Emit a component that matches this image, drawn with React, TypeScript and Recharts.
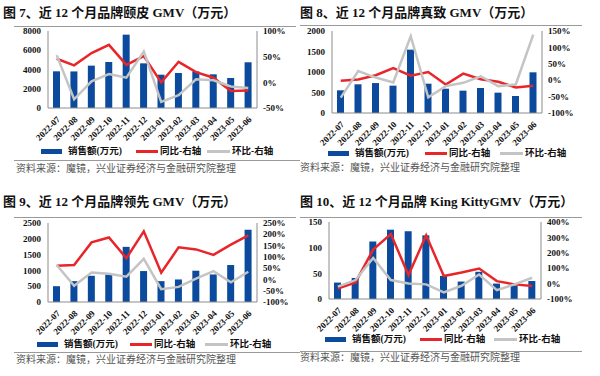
import React from "react";
import { ComposedChart, Bar, Line, XAxis, YAxis } from "recharts";

const months = [
  "2022-07", "2022-08", "2022-09", "2022-10", "2022-11", "2022-12",
  "2023-01", "2023-02", "2023-03", "2023-04", "2023-05", "2023-06",
];

// 图7 颐皮
const p7Sales = [3810, 3800, 4400, 4780, 7620, 4640, 3460, 3640, 3800, 3500, 3120, 4750];
const p7Yoy = [46, 33, 57, 73, 34, 51, 0, 40, 20, 9, -17, -16];
const p7Mom = [53, -33, 2, 16, 9, 60, -38, -25, 6, 4, -8, -11];

// 图8 真致
const p8Sales = [553, 700, 730, 667, 1545, 715, 593, 545, 610, 496, 415, 992];
const p8Yoy = [-2, 2, 15, 37, 14, 25, -13, 20, 3, -5, -22, -17];
const p8Mom = [-53, 28, 8, -7, 134, -52, -18, -8, 12, -18, -13, 139];

// 图9 领先
const p9Sales = [500, 660, 830, 872, 1745, 979, 660, 713, 990, 872, 1170, 2287];
const p9Yoy = [61, 64, 164, 186, 94, 213, 30, 142, 133, 109, 154, 195];
const p9Mom = [64, -28, 31, 25, 12, 91, -43, -33, 4, 37, -13, 34];

// 图10 King Kitty
const p10Sales = [32, 41, 112, 135, 132, 124, 45, 34, 53, 30, 26, 35];
const p10Yoy = [-33, 8, 221, 322, 55, 314, 49, 72, 98, 16, -5, -16];
const p10Mom = [-20, 23, 167, 23, 1, -5, -57, -14, 59, -42, -5, 38];

const BLUE = "#0B4A9C";
const RED = "#E8262A";
const GRAY = "#C4C4C4";
const AXIS = "#8C8C8C";
const SERIF = "'Liberation Serif', 'Noto Sans CJK SC', serif";
const CJK = "'Liberation Serif', 'Noto Sans CJK SC', sans-serif";

const buildRows = (sales: number[], yoy: number[], mom: number[]) =>
  months.map((m, i) => ({ month: m, sales: sales[i], yoy: yoy[i], mom: mom[i] }));

const MonthTick = (props: any) => {
  const { x, y, payload } = props;
  const tx = x + 4;
  const ty = y + 4;
  return (
    <text
      x={tx}
      y={ty}
      transform={`rotate(-45 ${tx} ${ty})`}
      textAnchor="end"
      fontSize={9}
      fontWeight="bold"
      fontFamily={SERIF}
      fill="#111"
    >
      {payload.value}
    </text>
  );
};

type PanelProps = {
  left: number;
  top: number;
  title: string;
  rows: any[];
  leftTicks: number[];
  rightTicks: number[];
  plotLeft: number;
  plotRight: number;
  plotTop: number;
  plotBottom: number;
  titleY: number;
  sepTop: number;
  sepTopX: [number, number];
  legendY: number;
  legendX: number[];
  sepBottom?: number;
  sepBottomX?: [number, number];
  sourceY: number;
  sourceX: number;
};

const tickStyle = { fontSize: 9, fontWeight: "bold", fontFamily: SERIF, fill: "#111" };

const Panel = (p: PanelProps) => {
  const chartTop = p.plotTop - 5;
  const xAxisH = 40;
  const h = p.plotBottom - chartTop + xAxisH;
  const legendText = {
    position: "absolute" as const,
    top: p.legendY - 7,
    fontSize: 9.5,
    fontWeight: "bold" as const,
    fontFamily: CJK,
    color: "#111",
    whiteSpace: "nowrap" as const,
    lineHeight: "14px",
  };
  return (
    <div style={{ position: "absolute", left: p.left, top: p.top, width: 300, height: 190 }}>
      <div
        style={{
          position: "absolute",
          left: p.sourceX === 0 ? 0 : 3,
          top: p.titleY - 9,
          fontSize: 13,
          fontWeight: "bold",
          fontFamily: CJK,
          color: "#111",
          whiteSpace: "nowrap",
          lineHeight: "18px",
        }}
      >
        {p.title}
      </div>
      <div
        style={{
          position: "absolute",
          left: p.sepTopX[0],
          width: p.sepTopX[1] - p.sepTopX[0],
          top: p.sepTop,
          height: 1,
          background: "#9A9A9A",
        }}
      />
      <div style={{ position: "absolute", left: 0, top: chartTop }}>
        <ComposedChart
          width={300}
          height={h}
          data={p.rows}
          margin={{ top: 5, right: 0, left: 0, bottom: 0 }}
          barCategoryGap="60%"
        >
          <XAxis
            dataKey="month"
            height={xAxisH}
            interval={0}
            tickLine={false}
            stroke={AXIS}
            tick={<MonthTick />}
          />
          <YAxis
            yAxisId="left"
            width={p.plotLeft}
            domain={[p.leftTicks[0], p.leftTicks[p.leftTicks.length - 1]]}
            ticks={p.leftTicks}
            interval={0}
            tickSize={0}
            tickMargin={7}
            stroke={AXIS}
            tick={tickStyle}
          />
          <YAxis
            yAxisId="right"
            orientation="right"
            width={300 - p.plotRight}
            domain={[p.rightTicks[0], p.rightTicks[p.rightTicks.length - 1]]}
            ticks={p.rightTicks}
            interval={0}
            tickSize={0}
            tickMargin={6}
            stroke={AXIS}
            tick={tickStyle}
            tickFormatter={(v: number) => `${v}%`}
          />
          <Bar yAxisId="left" dataKey="sales" fill={BLUE} barSize={7} isAnimationActive={false} />
          <Line
            yAxisId="right"
            type="linear"
            dataKey="yoy"
            stroke={RED}
            strokeWidth={2.5}
            dot={false}
            isAnimationActive={false}
          />
          <Line
            yAxisId="right"
            type="linear"
            dataKey="mom"
            stroke={GRAY}
            strokeWidth={2.5}
            dot={false}
            isAnimationActive={false}
          />
        </ComposedChart>
      </div>
      <div
        style={{
          position: "absolute",
          left: p.legendX[0],
          top: p.legendY - 2.5,
          width: 21,
          height: 5,
          background: BLUE,
        }}
      />
      <div style={{ ...legendText, left: p.legendX[0] + 27 }}>销售额(万元)</div>
      <div
        style={{
          position: "absolute",
          left: p.legendX[1],
          top: p.legendY - 1.5,
          width: 22,
          height: 3,
          background: RED,
        }}
      />
      <div style={{ ...legendText, left: p.legendX[1] + 24 }}>同比-右轴</div>
      <div
        style={{
          position: "absolute",
          left: p.legendX[2],
          top: p.legendY - 1.5,
          width: 23,
          height: 3,
          background: GRAY,
        }}
      />
      <div style={{ ...legendText, left: p.legendX[2] + 25 }}>环比-右轴</div>
      {p.sepBottom !== undefined && p.sepBottomX && (
        <div
          style={{
            position: "absolute",
            left: p.sepBottomX[0],
            width: p.sepBottomX[1] - p.sepBottomX[0],
            top: p.sepBottom,
            height: 1,
            background: "#9A9A9A",
          }}
        />
      )}
      <div
        style={{
          position: "absolute",
          left: p.sourceX,
          top: p.sourceY - 7,
          fontSize: 10,
          fontFamily: CJK,
          color: "#555",
          whiteSpace: "nowrap",
          lineHeight: "14px",
        }}
      >
        资料来源：魔镜，兴业证券经济与金融研究院整理
      </div>
    </div>
  );
};

export default function App() {
  return (
    <div
      style={{
        position: "fixed",
        left: 0,
        top: 0,
        width: 600,
        height: 376,
        background: "#fff",
        overflow: "hidden",
      }}
    >
      <Panel
        left={0}
        top={0}
        title="图 7、近 12 个月品牌颐皮 GMV（万元）"
        rows={buildRows(p7Sales, p7Yoy, p7Mom)}
        leftTicks={[0, 2000, 4000, 6000, 8000]}
        rightTicks={[-50, 0, 50, 100]}
        plotLeft={48}
        plotRight={257}
        plotTop={31}
        plotBottom={108}
        titleY={13}
        sepTop={26}
        sepTopX={[14, 296]}
        legendY={151}
        legendX={[41, 136, 207]}
        sepBottom={160}
        sepBottomX={[14, 300]}
        sourceY={169}
        sourceX={16}
      />
      <Panel
        left={300}
        top={0}
        title="图 8、近 12 个月品牌真致 GMV（万元）"
        rows={buildRows(p8Sales, p8Yoy, p8Mom)}
        leftTicks={[0, 500, 1000, 1500, 2000]}
        rightTicks={[-100, -50, 0, 50, 100, 150]}
        plotLeft={32}
        plotRight={242}
        plotTop={31}
        plotBottom={113}
        titleY={13}
        sepTop={25}
        sepTopX={[0, 282]}
        legendY={153}
        legendX={[28, 125, 200]}
        sourceY={168}
        sourceX={0}
      />
      <Panel
        left={0}
        top={185}
        title="图 9、近 12 个月品牌领先 GMV（万元）"
        rows={buildRows(p9Sales, p9Yoy, p9Mom)}
        leftTicks={[0, 500, 1000, 1500, 2000, 2500]}
        rightTicks={[-100, -50, 0, 50, 100, 150, 200, 250]}
        plotLeft={48}
        plotRight={257}
        plotTop={38}
        plotBottom={117}
        titleY={17}
        sepTop={32}
        sepTopX={[14, 296]}
        legendY={159}
        legendX={[37, 130, 205]}
        sepBottom={167}
        sepBottomX={[14, 300]}
        sourceY={175}
        sourceX={16}
      />
      <Panel
        left={300}
        top={185}
        title="图 10、近 12 个月品牌 King KittyGMV（万元）"
        rows={buildRows(p10Sales, p10Yoy, p10Mom)}
        leftTicks={[0, 50, 100, 150]}
        rightTicks={[-100, 0, 100, 200, 300, 400]}
        plotLeft={29}
        plotRight={241}
        plotTop={37}
        plotBottom={114}
        titleY={17}
        sepTop={32}
        sepTopX={[0, 282]}
        legendY={154}
        legendX={[25, 120, 194]}
        sepBottom={166}
        sepBottomX={[0, 282]}
        sourceY={173}
        sourceX={0}
      />
    </div>
  );
}
